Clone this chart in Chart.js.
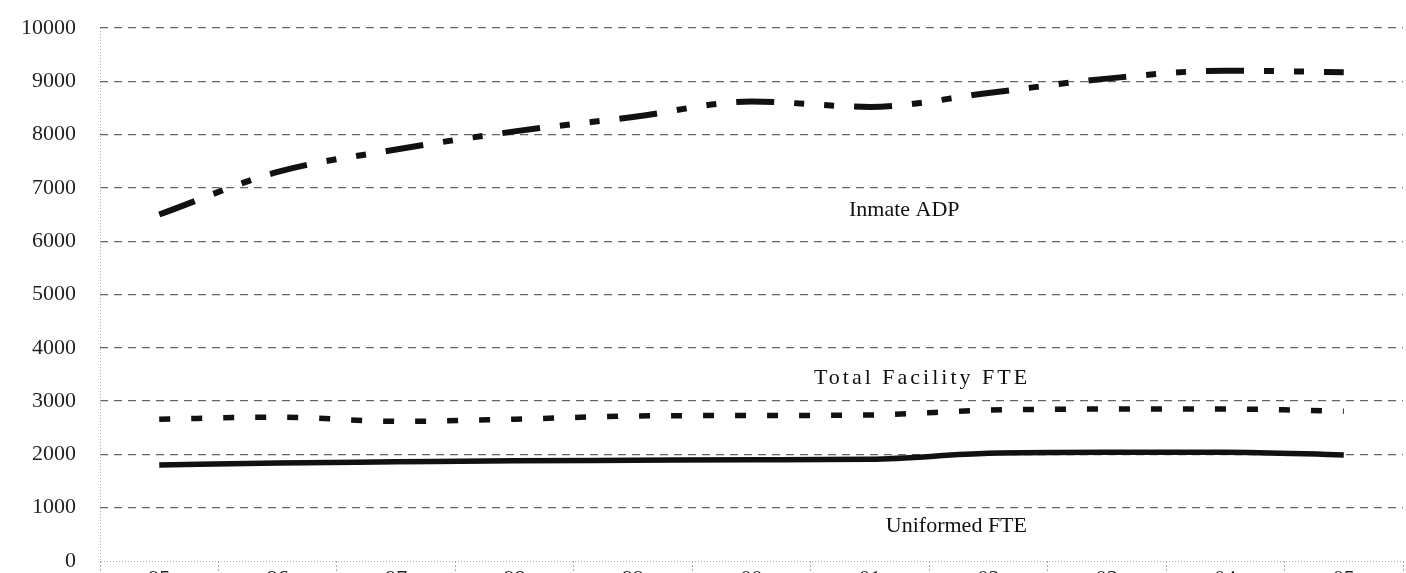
<!DOCTYPE html>
<html>
<head>
<meta charset="utf-8">
<script src="https://cdn.jsdelivr.net/npm/chart.js@4.4.0/dist/chart.umd.min.js"></script>
<style>
    html, body { margin: 0; padding: 0; background: #fff; overflow: hidden; }
    #wrap { width: 1406px; height: 600px; position: relative; }
</style>
</head>
<body>
<div id="wrap"><canvas id="chart"></canvas></div>
<script>
// categories (bottom labels are cut off in the scan)
const years = ['95', '96', '97', '98', '99', '00', '01', '02', '03', '04', '05'];

// series values
const inmateADP = [6500, 7300, 7720, 8060, 8330, 8620, 8520, 8780, 9050, 9200, 9170];
const totalFacilityFTE = [2660, 2700, 2620, 2660, 2720, 2730, 2740, 2830, 2850, 2850, 2810];
const uniformedFTE = [1800, 1840, 1860, 1880, 1890, 1900, 1910, 2020, 2040, 2040, 1990];

// y axis tick values
const yTicks = [0, 1000, 2000, 3000, 4000, 5000, 6000, 7000, 8000, 9000, 10000];

// in-plot series names
const seriesNames = ['Inmate ADP', 'Total Facility FTE', 'Uniformed FTE'];
const namePlaces = [
    { at: 6.29, value: 6585, spacing: 0 },
    { at: 6.44, value: 3433, spacing: 3 },
    { at: 6.73, value: 657, spacing: 0 }
];

const serif = 'Liberation Serif, Times New Roman, serif';

// dotted axis lines + series names written inside the plot
const plotExtras = {
    id: 'plotExtras',
    afterDraw(chart) {
        const { ctx, chartArea: a, scales: { x, y } } = chart;
        ctx.save();
        ctx.strokeStyle = '#aaa';
        ctx.lineWidth = 1;
        ctx.setLineDash([1, 2]);
        ctx.beginPath();
        ctx.moveTo(a.left + 0.5, a.top);
        ctx.lineTo(a.left + 0.5, a.bottom + 0.5);
        ctx.lineTo(a.right, a.bottom + 0.5);
        ctx.stroke();
        ctx.setLineDash([]);

        ctx.fillStyle = '#111';
        ctx.font = '22px ' + serif;
        ctx.textAlign = 'center';
        ctx.textBaseline = 'middle';
        seriesNames.forEach((name, i) => {
            const p = namePlaces[i];
            ctx.letterSpacing = p.spacing + 'px';
            ctx.fillText(name, x.getPixelForValue(p.at), y.getPixelForValue(p.value));
        });
        ctx.restore();
    }
};

const lineBase = {
    borderColor: '#111',
    pointRadius: 0,
    fill: false,
    borderCapStyle: 'butt',
    cubicInterpolationMode: 'monotone'
};

new Chart(document.getElementById('chart').getContext('2d'), {
    type: 'line',
    data: {
        labels: years,
        datasets: [
            { ...lineBase, label: 'Inmate ADP', data: inmateADP, borderWidth: 6, borderDash: [38, 20, 10, 20, 10, 20] },
            { ...lineBase, label: 'Total Facility FTE', data: totalFacilityFTE, borderWidth: 5.5, borderDash: [11, 21] },
            { ...lineBase, label: 'Uniformed FTE', data: uniformedFTE, borderWidth: 5.5 }
        ]
    },
    options: {
        responsive: true,
        maintainAspectRatio: false,
        animation: false,
        layout: { padding: { top: 28, right: 3, bottom: 0, left: 0 } },
        plugins: {
            legend: { display: false },
            tooltip: { enabled: false }
        },
        scales: {
            x: {
                offset: true,
                grid: {
                    offset: true,
                    drawOnChartArea: false,
                    drawTicks: true,
                    tickLength: 14,
                    color: '#aaa',
                    tickBorderDash: [2, 2]
                },
                border: { display: false },
                ticks: {
                    font: { family: serif, size: 22 },
                    color: '#222',
                    padding: -9,
                    maxRotation: 0
                },
                afterFit: s => { s.height = 39; }
            },
            y: {
                min: 0,
                max: 10000,
                afterBuildTicks: s => { s.ticks = yTicks.map(v => ({ value: v })); },
                ticks: {
                    font: { family: serif, size: 22 },
                    color: '#222',
                    padding: 0,
                    callback: v => String(v)
                },
                grid: {
                    drawTicks: true,
                    tickLength: 24,
                    tickColor: 'rgba(0,0,0,0)',
                    lineWidth: 1.3,
                    color: c => (c.tick && c.tick.value === 0) ? 'rgba(0,0,0,0)' : '#666'
                },
                border: { display: false, dash: [8, 6], dashOffset: -14 },
                afterFit: s => { s.width = 100; }
            }
        }
    },
    plugins: [plotExtras]
});
</script>
</body>
</html>
